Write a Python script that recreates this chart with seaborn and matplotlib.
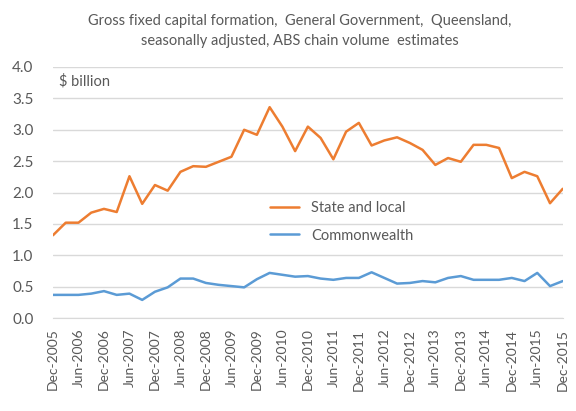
import pandas as pd
import seaborn as sns
import matplotlib.pyplot as plt

# Quarterly values, Dec-2005 to Dec-2015 ($ billion)
quarters = pd.period_range("2005Q4", "2015Q4", freq="Q")
state_local = [1.32, 1.52, 1.52, 1.68, 1.74, 1.69, 2.26, 1.82, 2.12, 2.03,
               2.33, 2.42, 2.41, 2.49, 2.57, 3.00, 2.92, 3.36, 3.05, 2.66,
               3.05, 2.87, 2.53, 2.97, 3.11, 2.75, 2.83, 2.88, 2.79, 2.68,
               2.44, 2.55, 2.49, 2.76, 2.76, 2.71, 2.23, 2.33, 2.26, 1.83,
               2.06]
commonwealth = [0.37, 0.37, 0.37, 0.39, 0.43, 0.37, 0.39, 0.29, 0.42, 0.49,
                0.63, 0.63, 0.56, 0.53, 0.51, 0.49, 0.62, 0.72, 0.69, 0.66,
                0.67, 0.63, 0.61, 0.64, 0.64, 0.73, 0.64, 0.55, 0.56, 0.59,
                0.57, 0.64, 0.67, 0.61, 0.61, 0.61, 0.64, 0.59, 0.72, 0.51,
                0.59]
labels = [q.strftime("%b-%Y") for q in quarters.asfreq("M", "end")]

df = pd.DataFrame({
    "idx": list(range(len(quarters))) * 2,
    "value": state_local + commonwealth,
    "series": ["State and local"] * len(quarters) + ["Commonwealth"] * len(quarters),
})

sns.set_style("white")
plt.rcParams["font.family"] = ["Lato", "DejaVu Sans"]
text_col = "#595959"

fig = plt.figure(figsize=(5.76, 4.11), dpi=100)
ax = fig.add_axes([0.092, 0.226, 0.885, 0.611])

sns.lineplot(data=df, x="idx", y="value", hue="series",
             palette={"State and local": "#ED7D31", "Commonwealth": "#5B9BD5"},
             linewidth=1.8, ax=ax)

ax.set_xlim(0, len(quarters) - 1)
ax.set_ylim(0, 4.0)
ax.set_yticks([i * 0.5 for i in range(9)])
ax.set_yticklabels([f"{i * 0.5:.1f}" for i in range(9)])
ax.set_xticks(range(0, len(quarters), 2))
ax.set_xticklabels(labels[::2], rotation=90)
ax.yaxis.grid(True, color="#D9D9D9", linewidth=1)
ax.set_axisbelow(True)
ax.set_xlabel("")
ax.set_ylabel("")

for side in ["top", "right", "left"]:
    ax.spines[side].set_visible(False)
ax.spines["bottom"].set_color("#D9D9D9")
ax.tick_params(axis="x", length=4, color="#D9D9D9", colors=text_col, labelsize=10)
ax.tick_params(axis="y", length=0, colors=text_col, labelsize=11, pad=14)

ax.text(0.45, 3.77, "$ billion", color=text_col, fontsize=10.5, va="center")

leg = ax.legend(loc="upper left", bbox_to_anchor=(0.40, 0.52), frameon=False,
                fontsize=10.5, handlelength=2.0, labelspacing=0.95)
for t in leg.get_texts():
    t.set_color(text_col)

fig.text(0.52, 0.925, "Gross fixed capital formation,  General Government,  Queensland,\n"
         "seasonally adjusted, ABS chain volume  estimates",
         ha="center", va="center", color=text_col, fontsize=10.5, linespacing=1.6)

fig.savefig("out.png", dpi=100)
